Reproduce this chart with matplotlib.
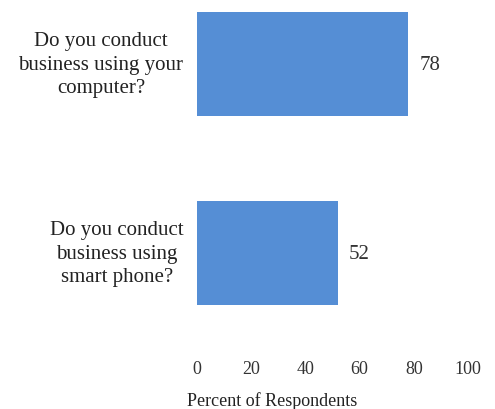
import matplotlib
matplotlib.use("Agg")
import matplotlib.pyplot as plt

# data
questions = ["Do you conduct\nbusiness using\nsmart phone?",
             "Do you conduct\nbusiness using your\ncomputer?"]
percents = [52, 78]
xticks = [0, 20, 40, 60, 80, 100]

plt.rcParams['font.family'] = ['Liberation Serif', 'DejaVu Serif']

fig = plt.figure(figsize=(4.95, 4.1), dpi=100)
ax = fig.add_axes([197 / 495, 61.5 / 410, 271 / 495, 348.5 / 410])

pos = list(range(len(questions)))
ax.barh(pos, percents, height=0.555, color="#558ED5")

for p, v in zip(pos, percents):
    ax.text(v + 4, p, str(v), va="center", ha="left", fontsize=15, color="#333333")

for p, q in zip(pos, questions):
    ax.text(-5, p, q, va="center", ha="right", multialignment="center",
            fontsize=15, linespacing=1.3, color="#222222")

ax.set_xlim(0, 100)
ax.set_ylim(-0.5, 1.344)
ax.set_xticks(xticks)
ax.set_xticklabels([str(t) for t in xticks], fontsize=13, color="#333333")
ax.tick_params(axis="x", length=0, pad=9)
ax.set_yticks([])
ax.set_xlabel("Percent of Respondents", fontsize=13, color="#222222")
ax.xaxis.set_label_coords(0.277, -0.125)
for s in ax.spines.values():
    s.set_visible(False)

fig.savefig("out.png", dpi=100)
